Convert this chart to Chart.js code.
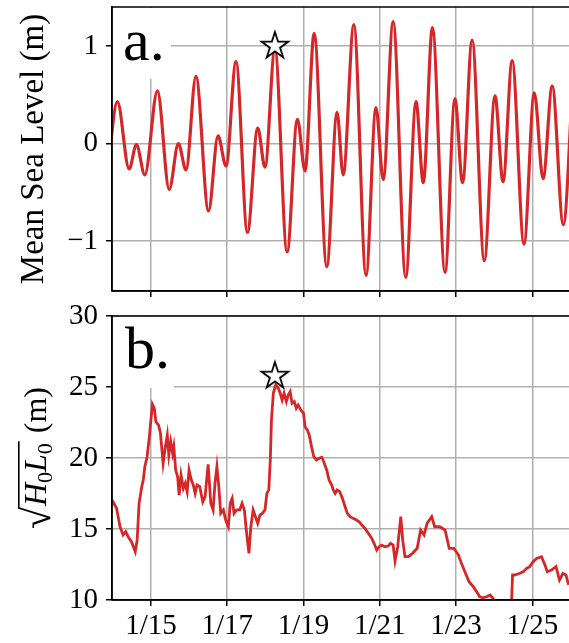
<!DOCTYPE html>
<html>
<head>
<meta charset="utf-8">
<script src="https://cdn.jsdelivr.net/npm/chart.js@4.4.1/dist/chart.umd.min.js"></script>
<style>
  html, body { margin: 0; padding: 0; background: #fff; }
  #wrap { position: relative; width: 569px; height: 643px; overflow: hidden; }
  #seaCanvas { position: absolute; left: 0; top: 0; }
  #waveCanvas { position: absolute; left: 0; top: 300px; }
</style>
</head>
<body>
<div id="wrap">
  <canvas id="seaCanvas" width="569" height="300"></canvas>
  <canvas id="waveCanvas" width="569" height="343"></canvas>
</div>
<script>
const seaDays = [13.86, 14.12, 14.43, 14.62, 14.84, 15.17, 15.48, 15.72, 15.92, 16.18,
  16.51, 16.76, 16.97, 17.23, 17.53, 17.80, 17.99, 18.25, 18.57, 18.84,
  19.04, 19.28, 19.61, 19.88, 20.04, 20.32, 20.64, 20.90, 21.09, 21.35,
  21.68, 21.95, 22.14, 22.38, 22.71, 22.97, 23.17, 23.42, 23.74, 24.02,
  24.23, 24.47, 24.78, 25.05, 25.28, 25.52, 25.81, 26.08];
const seaLevel = [-0.30, 0.43, -0.26, -0.01, -0.32, 0.54, -0.47, 0.00, -0.27, 0.69,
  -0.69, 0.08, -0.23, 0.84, -0.91, 0.16, -0.24, 0.97, -1.11, 0.25,
  -0.28, 1.13, -1.26, 0.32, -0.32, 1.22, -1.35, 0.37, -0.37, 1.25,
  -1.37, 0.43, -0.40, 1.19, -1.32, 0.46, -0.40, 1.06, -1.20, 0.49,
  -0.39, 0.85, -1.03, 0.52, -0.36, 0.59, -0.83, 0.80];

// panel b: sqrt(H0 L0) in metres
const waveDays = [13.98, 14.10, 14.19, 14.27, 14.34, 14.40, 14.49, 14.59, 14.64, 14.69,
  14.76, 14.80, 14.84, 14.90, 14.96, 15.00, 15.04, 15.09, 15.13, 15.20,
  15.25, 15.32, 15.38, 15.43, 15.47, 15.52, 15.57, 15.60, 15.65, 15.70,
  15.74, 15.79, 15.85, 15.90, 15.95, 16.00, 16.06, 16.11, 16.16, 16.21,
  16.28, 16.36, 16.42, 16.50, 16.57, 16.63, 16.68, 16.73, 16.78, 16.83,
  16.90, 16.96, 17.03, 17.08, 17.13, 17.18, 17.25, 17.33, 17.39, 17.45,
  17.50, 17.57, 17.62, 17.68, 17.74, 17.80, 17.86, 17.92, 17.99, 18.04,
  18.09, 18.13, 18.16, 18.21, 18.27, 18.34, 18.39, 18.44, 18.49, 18.55,
  18.60, 18.65, 18.70, 18.76, 18.81, 18.86, 18.93, 19.00, 19.04, 19.10,
  19.15, 19.21, 19.27, 19.34, 19.41, 19.48, 19.53, 19.61, 19.67, 19.74,
  19.78, 19.83, 19.88, 19.95, 20.02, 20.09, 20.15, 20.22, 20.30, 20.39,
  20.46, 20.53, 20.61, 20.70, 20.79, 20.85, 20.92, 20.98, 21.05, 21.13,
  21.22, 21.28, 21.35, 21.40, 21.47, 21.55, 21.60, 21.66, 21.75, 21.86,
  21.98, 22.07, 22.16, 22.24, 22.36, 22.44, 22.57, 22.71, 22.82, 22.94,
  23.06, 23.14, 23.23, 23.34, 23.45, 23.54, 23.62, 23.71, 23.80, 23.89,
  23.97, 24.05, 24.45, 24.48, 24.54, 24.67, 24.76, 24.85, 24.93, 25.02,
  25.11, 25.24, 25.33, 25.39, 25.50, 25.62, 25.71, 25.80, 25.88, 25.95];
const waveHeight = [17.05, 16.46, 15.16, 14.58, 14.81, 14.46, 14.11, 13.40, 14.23, 16.81,
  17.98, 18.45, 19.39, 20.09, 21.50, 22.68, 23.78, 23.50, 22.56, 22.32,
  21.74, 19.63, 20.80, 21.62, 20.21, 21.15, 20.33, 20.80, 19.15, 18.68,
  17.39, 18.80, 17.86, 18.22, 17.63, 19.15, 18.45, 18.10, 17.51, 18.10,
  17.98, 16.92, 17.27, 19.55, 16.81, 16.34, 18.22, 19.39, 17.98, 16.10,
  16.34, 15.63, 15.16, 16.81, 17.16, 16.10, 16.34, 16.34, 16.81, 16.34,
  14.93, 13.29, 15.16, 16.34, 15.87, 15.40, 15.99, 16.10, 16.34, 17.51,
  17.75, 19.86, 22.68, 24.56, 25.14, 24.91, 24.56, 24.08, 24.56, 23.97,
  24.44, 24.67, 23.85, 23.97, 23.50, 23.73, 23.38, 23.15, 22.20, 21.97,
  21.62, 20.80, 20.09, 19.86, 19.98, 20.05, 19.74, 19.15, 18.45, 18.10,
  17.75, 17.51, 17.75, 17.63, 17.16, 16.57, 16.10, 15.87, 15.75, 15.63,
  15.51, 15.28, 15.04, 14.70, 14.34, 13.99, 13.52, 13.75, 13.87, 13.75,
  13.80, 13.99, 13.87, 12.76, 13.75, 15.87, 14.23, 13.05, 13.05, 13.29,
  13.64, 14.93, 14.58, 15.40, 15.87, 15.16, 15.16, 14.93, 13.64, 13.64,
  13.17, 12.58, 11.99, 11.29, 10.94, 10.58, 10.23, 10.16, 10.23, 10.35,
  10.12, 9.50, 9.50, 11.76, 11.76, 11.88, 11.99, 12.23, 12.35, 12.70,
  12.93, 13.05, 12.46, 11.99, 12.11, 12.35, 11.41, 11.88, 11.76, 11.06];

const xTickDays = [15, 17, 19, 21, 23, 25];
const xTickLabels = ['1/15', '1/17', '1/19', '1/21', '1/23', '1/25'];
const seaTicks = [-1, 0, 1];
const seaTickLabels = ['\u22121', '0', '1'];
const waveTicks = [10, 15, 20, 25, 30];
const waveTickLabels = ['10', '15', '20', '25', '30'];

// starred event
const starSea = [{ x: 18.25, y: 1.0 }];
const starWave = [{ x: 18.25, y: 25.77 }];

const RED = '#d62728';
const GRID = '#b0b0b0';
const SERIF = "'Liberation Serif', 'DejaVu Serif', serif";
const X_MIN = 13.98;
const X_MAX = 25.96;

function makeStar() {
  const c = document.createElement('canvas');
  c.width = 34;
  c.height = 34;
  const g = c.getContext('2d');
  const R = 14, r = R * 0.382;
  g.beginPath();
  for (let i = 0; i < 10; i++) {
    const rad = i % 2 === 0 ? R : r;
    const a = -Math.PI / 2 + i * Math.PI / 5;
    const px = 17 + rad * Math.cos(a), py = 17 + rad * Math.sin(a);
    if (i === 0) g.moveTo(px, py); else g.lineTo(px, py);
  }
  g.closePath();
  g.fillStyle = '#fff';
  g.fill();
  g.lineWidth = 1.8;
  g.strokeStyle = '#000';
  g.stroke();
  return c;
}
const starImg = makeStar();

function toPoints(xs, ys) {
  return xs.map((d, i) => ({ x: d, y: ys[i] }));
}

function xAxis(showLabels, height) {
  return {
    type: 'linear',
    min: X_MIN,
    max: X_MAX,
    afterBuildTicks: s => { s.ticks = xTickDays.map(v => ({ value: v })); },
    afterFit: s => { s.height = height; s.paddingLeft = 0; s.paddingRight = 0; },
    grid: { color: GRID, lineWidth: 1.5, drawTicks: true, tickLength: 6, tickColor: '#000', tickWidth: 1.5 },
    border: { display: true, color: '#000', width: 1.5 },
    ticks: {
      display: showLabels,
      autoSkip: false,
      maxRotation: 0,
      padding: 6,
      color: '#000',
      font: { family: SERIF, size: 29, lineHeight: 1 },
      callback: (v, i) => xTickLabels[i]
    }
  };
}

function yAxis(min, max, tickVals, tickLabels, title) {
  return {
    type: 'linear',
    min: min,
    max: max,
    afterBuildTicks: s => { s.ticks = tickVals.map(v => ({ value: v })); },
    afterFit: s => { s.width = 112; s.paddingTop = 0; s.paddingBottom = 0; },
    grid: { color: GRID, lineWidth: 1.5, drawTicks: true, tickLength: 6, tickColor: '#000', tickWidth: 1.5 },
    border: { display: true, color: '#000', width: 1.5 },
    ticks: {
      padding: 8,
      color: '#000',
      font: { family: SERIF, size: 29, lineHeight: 1 },
      callback: (v, i) => tickLabels[i]
    },
    title: title
  };
}

// white-boxed panel letter, and the frame drawn over the data like matplotlib spines
const panelPlugin = {
  id: 'panel',
  afterDatasetsDraw(chart, args, opts) {
    const { ctx, chartArea: a } = chart;
    ctx.save();
    ctx.fillStyle = '#fff';
    ctx.fillRect(a.left + 1, a.top + 1, opts.boxW, opts.boxH);
    ctx.fillStyle = '#000';
    ctx.font = '60px ' + SERIF;
    ctx.textBaseline = 'alphabetic';
    ctx.fillText(opts.label, a.left + opts.dx, a.top + opts.dy);
    ctx.restore();
  },
  afterDraw(chart) {
    const { ctx, chartArea: a } = chart;
    ctx.save();
    ctx.strokeStyle = '#000';
    ctx.lineWidth = 1.5;
    ctx.beginPath();
    ctx.moveTo(a.left, a.bottom);
    ctx.lineTo(a.left, a.top);
    ctx.lineTo(a.right + 2, a.top);
    ctx.moveTo(a.left, a.bottom);
    ctx.lineTo(a.right + 2, a.bottom);
    ctx.stroke();
    ctx.restore();
  }
};

// y title of panel b: sqrt(H0 L0) (m)
const rootTitlePlugin = {
  id: 'rootTitle',
  afterDraw(chart) {
    const { ctx, chartArea: a } = chart;
    const cy = (a.top + a.bottom) / 2;
    const rootFont = '40px ' + SERIF;
    const italFont = 'italic 32px ' + SERIF;
    const subFont = '22px ' + SERIF;
    const romFont = '32px ' + SERIF;
    const parts = [
      { t: 'H', f: italFont, dy: 0 },
      { t: '0', f: subFont, dy: 6 },
      { t: 'L', f: italFont, dy: 0 },
      { t: '0', f: subFont, dy: 6 }
    ];
    ctx.save();
    ctx.translate(46, cy);
    ctx.rotate(-Math.PI / 2);
    ctx.fillStyle = '#000';
    ctx.textBaseline = 'alphabetic';
    ctx.textAlign = 'left';
    ctx.font = rootFont;
    const rootM = ctx.measureText('\u221A');
    const rootW = rootM.width;
    let inner = 0;
    parts.forEach(p => { ctx.font = p.f; p.w = ctx.measureText(p.t).width; inner += p.w; });
    inner += 3;
    ctx.font = romFont;
    const unit = ' (m)';
    const unitW = ctx.measureText(unit).width;
    const total = rootW + inner + unitW;
    let x = -total / 2;
    ctx.font = rootFont;
    ctx.fillText('\u221A', x, 4);
    const topY = 4 - rootM.actualBoundingBoxAscent;
    x += rootW;
    ctx.lineWidth = 1.6;
    ctx.strokeStyle = '#000';
    ctx.beginPath();
    ctx.moveTo(x - 1.5, topY + 0.8);
    ctx.lineTo(x + inner, topY + 0.8);
    ctx.stroke();
    x += 1;
    parts.forEach(p => {
      ctx.font = p.f;
      ctx.fillText(p.t, x, p.dy);
      x += p.w;
    });
    x += 2;
    ctx.font = romFont;
    ctx.fillText(unit, x, 0);
    ctx.restore();
  }
};

const common = {
  responsive: false,
  animation: false,
  events: [],
  plugins: { legend: { display: false }, tooltip: { enabled: false } }
};

new Chart(document.getElementById('seaCanvas'), {
  type: 'line',
  data: {
    datasets: [
      {
        data: starSea,
        showLine: false,
        pointStyle: starImg,
        pointRadius: 14,
        order: 0
      },
      {
        data: toPoints(seaDays, seaLevel),
        borderColor: RED,
        borderWidth: 3.2,
        pointRadius: 0,
        cubicInterpolationMode: 'monotone',
        clip: 0,
        order: 1
      }
    ]
  },
  options: {
    ...common,
    layout: { autoPadding: false, padding: { top: 7, right: 0, bottom: 0, left: 0 } },
    scales: {
      x: xAxis(false, 9),
      y: yAxis(-1.51, 1.40, seaTicks, seaTickLabels, {
        display: true,
        text: 'Mean Sea Level (m)',
        color: '#000',
        font: { family: SERIF, size: 33 },
        padding: { top: 15, bottom: 0 }
      })
    },
    plugins: {
      ...common.plugins,
      panel: { label: 'a.', boxW: 58, boxH: 71, dx: 11, dy: 53 }
    }
  },
  plugins: [panelPlugin]
});

new Chart(document.getElementById('waveCanvas'), {
  type: 'line',
  data: {
    datasets: [
      {
        data: starWave,
        showLine: false,
        pointStyle: starImg,
        pointRadius: 14,
        order: 0
      },
      {
        data: toPoints(waveDays, waveHeight),
        borderColor: RED,
        borderWidth: 2.8,
        pointRadius: 0,
        tension: 0,
        clip: 0,
        order: 1
      }
    ]
  },
  options: {
    ...common,
    layout: { autoPadding: false, padding: { top: 16, right: 0, bottom: 0, left: 0 } },
    scales: {
      x: xAxis(true, 43),
      y: yAxis(10, 30, waveTicks, waveTickLabels, { display: false })
    },
    plugins: {
      ...common.plugins,
      panel: { label: 'b.', boxW: 61, boxH: 71, dx: 13, dy: 52 }
    }
  },
  plugins: [panelPlugin, rootTitlePlugin]
});
</script>
</body>
</html>
